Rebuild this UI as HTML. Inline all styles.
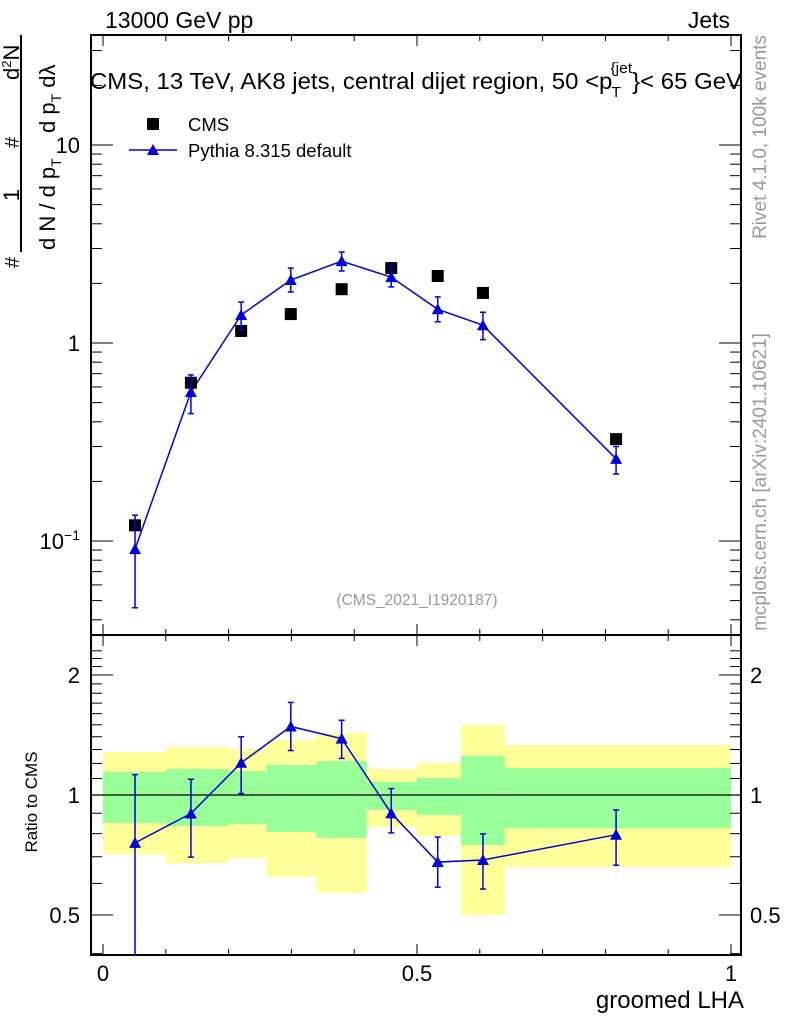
<!DOCTYPE html>
<html><head><meta charset="utf-8"><style>
html,body{margin:0;padding:0;background:#fff;}
svg{display:block;font-family:"Liberation Sans",sans-serif;}
</style></head><body>
<svg id="c" width="786" height="1024" viewBox="0 0 786 1024" xmlns="http://www.w3.org/2000/svg">
<text x="105" y="28" font-size="23">13000 GeV pp</text>
<text x="730" y="28" font-size="23" text-anchor="end">Jets</text>
<text x="90" y="89" font-size="23" textLength="652" lengthAdjust="spacingAndGlyphs">CMS, 13 TeV, AK8 jets, central dijet region, 50 &lt;p<tspan font-size="15" dy="8" dx="-1">T</tspan><tspan font-size="15" dy="-24" dx="-10">{jet</tspan><tspan dy="16" dx="0">}&lt; 65 GeV</tspan></text>
<text transform="translate(766,137) rotate(-90)" font-size="19" fill="#999" text-anchor="middle">Rivet 4.1.0,  100k events</text>
<text transform="translate(766,482) rotate(-90)" font-size="19" fill="#999" text-anchor="middle">mcplots.cern.ch [arXiv:2401.10621]</text>
<text x="417" y="605" font-size="15.5" fill="#999" text-anchor="middle">(CMS_2021_I1920187)</text>
<g font-size="22">
<line x1="21" y1="35" x2="21" y2="252" stroke="#000" stroke-width="2"/>
<text transform="translate(19,268) rotate(-90)" font-size="20">#</text>
<text transform="translate(19,195) rotate(-90)" text-anchor="middle">1</text>
<text transform="translate(19,148) rotate(-90)" font-size="20">#</text>
<text transform="translate(19,80) rotate(-90)">d<tspan font-size="13" dy="-8">2</tspan><tspan dy="8">N</tspan></text>
<text transform="translate(55,250) rotate(-90)">d N / d p<tspan font-size="14" dy="6">T</tspan></text>
<text transform="translate(55,133) rotate(-90)">d p<tspan font-size="14" dy="6">T</tspan><tspan dy="-6">  dλ</tspan></text>
</g>
<text transform="translate(37,802) rotate(-90)" font-size="17" text-anchor="middle">Ratio to CMS</text>
<text x="744" y="1008" font-size="24" text-anchor="end">groomed LHA</text>
<g>
<rect x="147" y="118" width="12" height="12" fill="#000"/>
<text x="188" y="131" font-size="18.5">CMS</text>
<line x1="129" y1="150" x2="177" y2="150" stroke="#0000dd" stroke-width="1.5"/>
<path d="M147,155 L153,144 L159,155Z" fill="#0000dd"/>
<text x="188" y="157" font-size="18.5">Pythia 8.315 default</text>
</g>
<g id="g"></g>
</svg>
<script>
const xCenters=[0.051,0.140,0.220,0.299,0.380,0.459,0.533,0.605,0.817];
const cmsValues=[0.12,0.63,1.15,1.40,1.87,2.39,2.18,1.79,0.327];
const pythiaValues=[0.091,0.566,1.385,2.08,2.59,2.15,1.48,1.23,0.26];
const pythiaErrHi=[0.135,0.69,1.61,2.39,2.88,2.48,1.71,1.43,0.30];
const pythiaErrLo=[0.046,0.44,1.16,1.81,2.31,1.92,1.28,1.04,0.218];
const binEdges=[0,0.1,0.2,0.26,0.34,0.42,0.5,0.57,0.64,1.0];
const yellowHi=[1.282,1.319,1.304,1.374,1.430,1.162,1.203,1.498,1.335];
const yellowLo=[0.711,0.675,0.695,0.623,0.568,0.831,0.789,0.5,0.66];
const greenHi=[1.142,1.162,1.149,1.189,1.217,1.078,1.103,1.253,1.169];
const greenLo=[0.851,0.836,0.846,0.808,0.780,0.917,0.891,0.749,0.826];
const xTicks=[0,0.5,1];
const xTickLabels=["0","0.5","1"];
const ratioTicks=[0.5,1,2];
const ratioTickLabels=["0.5","1","2"];

const L=91,R=741,T1=35,B1=635,T2=635,B2=955;
const X=v=>103+v*628;
const Y1=v=>343-198*Math.log10(v);
const Y2=v=>795-120*Math.log2(v);
const g=document.getElementById('g');
const NS='http://www.w3.org/2000/svg';
function mk(tag,a,p){const e=document.createElementNS(NS,tag);for(const k in a)e.setAttribute(k,a[k]);(p||g).appendChild(e);return e;}
const B='#0000dd';
const defs=mk('defs',{});
const cp=mk('clipPath',{id:'cp2'},defs);mk('rect',{x:L,y:T2,width:R-L,height:B2-T2},cp);
const cp1=mk('clipPath',{id:'cp1'},defs);mk('rect',{x:L,y:T1,width:R-L,height:B1-T1},cp1);
for(let i=0;i<yellowHi.length;i++){
 const x0=X(binEdges[i]),x1=X(binEdges[i+1]);
 let r=mk('rect',{x:x0,y:Y2(yellowHi[i]),width:x1-x0,height:Y2(yellowLo[i])-Y2(yellowHi[i]),fill:'#ffff99'});
 
 
 r=mk('rect',{x:x0,y:Y2(greenHi[i]),width:x1-x0,height:Y2(greenLo[i])-Y2(greenHi[i]),fill:'#99ff99'});
 
 
}
mk('line',{x1:L,x2:R,y1:Y2(1),y2:Y2(1),stroke:'#000','stroke-width':1.2});
for(const [t,b] of [[T1,B1],[T2,B2]]){
 const f=mk('rect',{x:L,y:t,width:R-L,height:b-t,fill:'none',stroke:'#000','stroke-width':2});
 
 
 for(let k=0;k<=10;k++){const v=k/10,len=(k%5==0)?11:6;
  mk('line',{x1:X(v),x2:X(v),y1:b,y2:b-len,stroke:'#000','stroke-width':1});
  mk('line',{x1:X(v),x2:X(v),y1:t,y2:t+len,stroke:'#000','stroke-width':1});}
}
for(let d=-2;d<=1;d++)for(let m=1;m<=9;m++){const v=m*Math.pow(10,d);const y=Y1(v);if(y<T1||y>B1)continue;const len=m==1?22:11;
 mk('line',{x1:L,x2:L+len,y1:y,y2:y,stroke:'#000'});mk('line',{x1:R,x2:R-len,y1:y,y2:y,stroke:'#000'});}
let t=mk('text',{x:80,y:Y1(10)+8,'font-size':22,'text-anchor':'end'});t.textContent='10';


t=mk('text',{x:80,y:Y1(1)+8,'font-size':22,'text-anchor':'end'});t.textContent='1';


t=mk('text',{x:80,y:Y1(0.1)+8,'font-size':22,'text-anchor':'end'});t.innerHTML='10<tspan font-size="14" dy="-9">−1</tspan>';


for(let v=0.4;v<=2.4;v+=0.1){const y=Y2(v);if(y<T2||y>B2)continue;const maj=ratioTicks.some(r=>Math.abs(r-v)<1e-6);const len=maj?22:11;
 mk('line',{x1:L,x2:L+len,y1:y,y2:y,stroke:'#000'});mk('line',{x1:R,x2:R-len,y1:y,y2:y,stroke:'#000'});}
ratioTicks.forEach((v,i)=>{
 let a=mk('text',{x:80,y:Y2(v)+8,'font-size':22,'text-anchor':'end'});a.textContent=ratioTickLabels[i];
 
 
 a=mk('text',{x:750,y:Y2(v)+8,'font-size':22});a.textContent=ratioTickLabels[i];
 
 
});
xTicks.forEach((v,i)=>{const a=mk('text',{x:X(v),y:981,'font-size':22,'text-anchor':'middle'});a.textContent=xTickLabels[i];
 
 });
function tri(x,y,p){return mk('path',{d:`M${x-6},${y+5} L${x},${y-6} L${x+6},${y+5}Z`,fill:B},p);}
const gt=mk('g',{'clip-path':'url(#cp1)'});
mk('polyline',{points:xCenters.map((x,i)=>X(x)+','+Y1(pythiaValues[i])).join(' '),fill:'none',stroke:B,'stroke-width':1.5},gt);
xCenters.forEach((x,i)=>{
 const px=X(x);
 const c=mk('rect',{x:px-6,y:Y1(cmsValues[i])-6,width:12,height:12,fill:'#000'},gt);
 
 
 const y1=Y1(pythiaErrHi[i]),y2=Y1(pythiaErrLo[i]);
 mk('line',{x1:px,x2:px,y1:y1,y2:y2,stroke:B,'stroke-width':1.5},gt);
 mk('line',{x1:px-3,x2:px+3,y1:y1,y2:y1,stroke:B,'stroke-width':1.5},gt);
 mk('line',{x1:px-3,x2:px+3,y1:y2,y2:y2,stroke:B,'stroke-width':1.5},gt);
 const p=tri(px,Y1(pythiaValues[i]),gt);
 
 
});
const gr=mk('g',{'clip-path':'url(#cp2)'});
const ratio=pythiaValues.map((v,i)=>v/cmsValues[i]);
mk('polyline',{points:xCenters.map((x,i)=>X(x)+','+Y2(ratio[i])).join(' '),fill:'none',stroke:B,'stroke-width':1.5},gr);
xCenters.forEach((x,i)=>{
 const px=X(x);
 const y1=Y2(pythiaErrHi[i]/cmsValues[i]),y2=Y2(pythiaErrLo[i]/cmsValues[i]);
 mk('line',{x1:px,x2:px,y1:y1,y2:y2,stroke:B,'stroke-width':1.5},gr);
 mk('line',{x1:px-3,x2:px+3,y1:y1,y2:y1,stroke:B,'stroke-width':1.5},gr);
 mk('line',{x1:px-3,x2:px+3,y1:y2,y2:y2,stroke:B,'stroke-width':1.5},gr);
 const p=tri(px,Y2(ratio[i]),gr);
 
 
});
</script>
</body></html>
